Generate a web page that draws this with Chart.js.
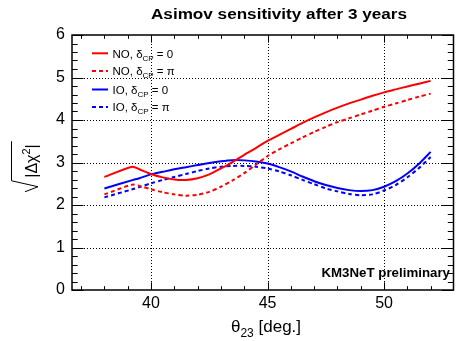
<!DOCTYPE html>
<html>
<head>
<meta charset="utf-8">
<script src="https://cdn.jsdelivr.net/npm/chart.js@4.4.1/dist/chart.umd.min.js"></script>
<style>
  html, body { margin: 0; padding: 0; background: #fff; }
  #wrap { width: 459px; height: 341px; }
</style>
</head>
<body>
<div id="wrap"><canvas id="chart" width="459" height="341"></canvas></div>
<script>
// values (theta23 in degrees)
const theta = [38, 39.2, 39.5, 40, 40.5, 41, 41.5, 42, 42.5, 43, 43.5, 44, 44.5, 45, 45.5,
               46, 46.5, 47, 47.5, 48, 48.5, 49, 49.5, 50, 50.5, 51, 51.5, 52];
const no0  = [2.66, 2.90, 2.84, 2.73, 2.65, 2.60, 2.59, 2.63, 2.72, 2.86, 3.01, 3.18, 3.34, 3.51, 3.65,
              3.79, 3.93, 4.06, 4.18, 4.29, 4.39, 4.48, 4.57, 4.65, 4.72, 4.79, 4.855, 4.92];
const noPi = [2.25, 2.48, 2.45, 2.37, 2.30, 2.25, 2.22, 2.24, 2.31, 2.43, 2.58, 2.75, 2.95, 3.15, 3.31,
              3.45, 3.59, 3.72, 3.84, 3.95, 4.04, 4.13, 4.22, 4.31, 4.39, 4.47, 4.55, 4.62];
const io0  = [2.39, 2.585, 2.63, 2.72, 2.78, 2.84, 2.89, 2.94, 2.99, 3.03, 3.055, 3.05, 3.025, 2.975, 2.89,
              2.79, 2.67, 2.56, 2.47, 2.40, 2.35, 2.33, 2.35, 2.43, 2.56, 2.74, 2.97, 3.25];
const ioPi = [2.18, 2.37, 2.42, 2.51, 2.59, 2.66, 2.73, 2.80, 2.86, 2.90, 2.92, 2.92, 2.90, 2.86, 2.79,
              2.70, 2.59, 2.49, 2.39, 2.32, 2.26, 2.23, 2.25, 2.34, 2.47, 2.65, 2.87, 3.13];

const xTicks = [40, 45, 50];
const yTicks = [0, 1, 2, 3, 4, 5, 6];
const seriesOrder = ['NO', 'NO', 'IO', 'IO'];
const seriesPhase = ['0', 'π', '0', 'π'];

const FONT = '"Liberation Sans", Arial, Helvetica, sans-serif';

function pts(vals) {
    return theta.map((t, i) => ({ x: t, y: vals[i] }));
}

function line(ctx, x1, y1, x2, y2) {
    ctx.beginPath();
    ctx.moveTo(x1, y1);
    ctx.lineTo(x2, y2);
    ctx.stroke();
}

// draw a run of text pieces [text, size, dy, bold]
function drawRuns(ctx, x, y, runs) {
    runs.forEach(r => {
        ctx.font = (r[3] ? 'bold ' : '') + r[1] + 'px ' + FONT;
        ctx.fillText(r[0], x, y + r[2]);
        x += ctx.measureText(r[0]).width;
    });
    return x;
}

function runsWidth(ctx, runs) {
    let w = 0;
    runs.forEach(r => {
        ctx.font = (r[3] ? 'bold ' : '') + r[1] + 'px ' + FONT;
        w += ctx.measureText(r[0]).width;
    });
    return w;
}

// text squeezed/stretched to a given width
function fitText(ctx, text, cx, y, width) {
    const w = ctx.measureText(text).width;
    ctx.save();
    ctx.translate(cx, y);
    ctx.scale(width / w, 1);
    ctx.textAlign = 'center';
    ctx.fillText(text, 0, 0);
    ctx.restore();
}

// ROOT-like frame: dotted grid, inner ticks on all four sides
const framePlugin = {
    id: 'frame',
    beforeDatasetsDraw(chart) {
        const { ctx, chartArea: a, scales: { x, y } } = chart;
        ctx.save();
        ctx.strokeStyle = '#000';
        ctx.lineWidth = 1;
        ctx.setLineDash([1, 2]);
        xTicks.forEach(v => {
            const px = Math.round(x.getPixelForValue(v)) + 0.5;
            line(ctx, px, a.top, px, a.bottom);
        });
        yTicks.slice(1, -1).forEach(v => {
            const py = Math.round(y.getPixelForValue(v)) + 0.5;
            line(ctx, a.left, py, a.right, py);
        });
        ctx.restore();
    },
    afterDatasetsDraw(chart) {
        const { ctx, chartArea: a, scales: { x, y } } = chart;
        ctx.save();
        ctx.strokeStyle = '#000';
        ctx.lineWidth = 1;
        // x ticks every degree, long ones at labels
        for (let v = 37; v <= 53; v++) {
            if (v > x.max) break;
            const px = Math.round(x.getPixelForValue(v)) + 0.5;
            const len = xTicks.includes(v) ? 7.7 : 3.8;
            line(ctx, px, a.bottom, px, a.bottom - len);
            line(ctx, px, a.top, px, a.top + len);
        }
        // y ticks every 0.2
        for (let i = 0; i <= 30; i++) {
            const py = Math.round(y.getPixelForValue(i / 5)) + 0.5;
            const len = i % 5 === 0 ? 11.5 : 5.7;
            line(ctx, a.left, py, a.left + len, py);
            line(ctx, a.right, py, a.right - len, py);
        }
        ctx.lineWidth = 1.5;
        ctx.strokeRect(a.left, a.top, a.right - a.left, a.bottom - a.top);
        ctx.restore();
    }
};

// title, axis titles, legend, label
const textPlugin = {
    id: 'texts',
    afterDraw(chart) {
        const { ctx } = chart;
        ctx.save();
        ctx.fillStyle = '#000';
        ctx.textBaseline = 'alphabetic';
        ctx.textAlign = 'left';

        // title
        ctx.font = 'bold 14.5px ' + FONT;
        fitText(ctx, 'Asimov sensitivity after 3 years', 279, 19, 256);

        // x axis title
        const xt = [['θ', 17, 0], ['23', 12, 4.5], [' [deg.]', 17, 0]];
        drawRuns(ctx, 266 - runsWidth(ctx, xt) / 2, 332, xt);

        // y axis title: sqrt(|Δχ²|), rotated
        ctx.save();
        ctx.translate(37, 163);
        ctx.rotate(-Math.PI / 2);
        const yt = [['|Δχ', 16, 0], ['2', 11, -7], ['|', 16, 0]];
        const w = runsWidth(ctx, yt);
        const x0 = -w / 2 + 2;
        drawRuns(ctx, x0, 0, yt);
        ctx.lineWidth = 1;
        ctx.beginPath();
        ctx.moveTo(x0 - 14, -12);
        ctx.lineTo(x0 - 9, 1);
        ctx.lineTo(x0 - 3, -25.5);
        ctx.lineTo(x0 + w + 3, -25.5);
        ctx.stroke();
        ctx.restore();

        // legend
        const rows = [53.3, 71, 89.5, 107];
        chart.data.datasets.forEach((ds, i) => {
            const ry = rows[i];
            ctx.save();
            ctx.strokeStyle = ds.borderColor;
            ctx.lineWidth = ds.borderWidth;
            ctx.setLineDash(ds.borderDash || []);
            line(ctx, 92, ry, 108, ry);
            ctx.restore();
            drawRuns(ctx, 112.5, ry + 4.3, [
                [seriesOrder[i] + ', δ', 11.5, 0],
                ['CP', 8, 3],
                [' = ' + seriesPhase[i], 11.5, 0]
            ]);
        });

        // preliminary label
        ctx.font = 'bold 13.3px ' + FONT;
        ctx.textAlign = 'right';
        ctx.fillText('KM3NeT preliminary', 450, 276.5);
        ctx.restore();
    }
};

const ctx = document.getElementById('chart');

new Chart(ctx, {
    type: 'line',
    data: {
        datasets: [
            { data: pts(no0),  borderColor: '#ff0000', borderWidth: 2 },
            { data: pts(noPi), borderColor: '#ff0000', borderWidth: 2, borderDash: [4, 3] },
            { data: pts(io0),  borderColor: '#0000ff', borderWidth: 2 },
            { data: pts(ioPi), borderColor: '#0000ff', borderWidth: 2, borderDash: [4, 3] }
        ]
    },
    options: {
        responsive: false,
        animation: false,
        events: [],
        layout: { padding: { top: 35, right: 5.5, left: 0, bottom: 0 } },
        elements: {
            point: { radius: 0 },
            line: { tension: 0.25, fill: false }
        },
        scales: {
            x: {
                type: 'linear',
                min: 36.61,
                max: 52.98,
                afterBuildTicks: s => { s.ticks = xTicks.map(v => ({ value: v })); },
                afterFit: s => { s.height = 51; },
                grid: { display: false, drawTicks: false },
                border: { display: false },
                ticks: { color: '#000', padding: 4, font: { family: FONT, size: 16 } }
            },
            y: {
                min: 0,
                max: 6,
                afterBuildTicks: s => { s.ticks = yTicks.map(v => ({ value: v })); },
                afterFit: s => { s.width = 72; },
                grid: { display: false, drawTicks: false },
                border: { display: false },
                ticks: { color: '#000', padding: 7, font: { family: FONT, size: 16 } }
            }
        },
        plugins: {
            legend: { display: false },
            tooltip: { enabled: false }
        }
    },
    plugins: [framePlugin, textPlugin]
});
</script>
</body>
</html>
